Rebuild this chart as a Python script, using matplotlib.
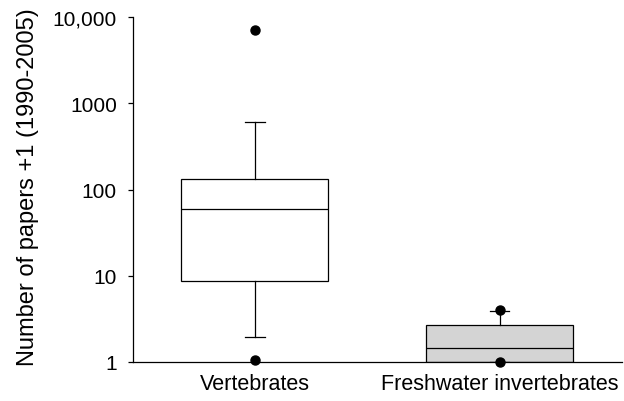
import matplotlib
matplotlib.use("Agg")
import matplotlib.pyplot as plt

categories = ["Vertebrates", "Freshwater invertebrates"]
medians = [59, 1.45]
q1 = [8.6, 1.0]
q3 = [133, 2.65]
whisker_low = [1.95, 1.0]
whisker_high = [610, 3.9]
outliers = [[7100, 1.05], [4.0, 1.0]]
box_colors = ["white", "#d4d4d4"]
yticks = [1, 10, 100, 1000, 10000]
ytick_labels = ["1", "10", "100", "1000", "10,000"]

plt.rcParams['font.family'] = ['Liberation Sans', 'DejaVu Sans']

fig = plt.figure(figsize=(6.24, 4.02), dpi=100)
ax = fig.add_axes([133/624, 1 - 363/402, (622-133)/624, (363-18)/402])

stats = []
for i, c in enumerate(categories):
    stats.append(dict(label=c, med=medians[i], q1=q1[i], q3=q3[i],
                      whislo=whisker_low[i], whishi=whisker_high[i],
                      fliers=outliers[i]))

bp = ax.bxp(stats, positions=[1, 2], widths=0.6, patch_artist=True,
            boxprops=dict(linewidth=0.9, edgecolor='black'),
            medianprops=dict(color='black', linewidth=0.9),
            whiskerprops=dict(color='black', linewidth=0.9),
            capprops=dict(color='black', linewidth=0.9),
            capwidths=0.08,
            flierprops=dict(marker='o', markerfacecolor='black',
                            markeredgecolor='black', markersize=6.5),
            manage_ticks=False)
for patch, col in zip(bp['boxes'], box_colors):
    patch.set_facecolor(col)
for fl in bp['fliers']:
    fl.set_clip_on(False)

ax.set_yscale('log')
ax.set_ylim(1, 10000)
ax.set_xlim(0.502, 2.5)
ax.set_yticks(yticks)
ax.set_yticklabels(ytick_labels)
ax.yaxis.set_minor_locator(matplotlib.ticker.NullLocator())
ax.set_xticks([1, 2])
ax.set_xticklabels(categories)
ax.tick_params(axis='x', length=0, pad=8, labelsize=15.5)
ax.tick_params(axis='y', length=3.6, width=0.9, pad=8, labelsize=15)
ax.spines['top'].set_visible(False)
ax.spines['right'].set_visible(False)
ax.spines['left'].set_linewidth(0.9)
ax.spines['bottom'].set_linewidth(0.9)
fig.text(28/624, 1 - 187/402, "Number of papers +1 (1990-2005)", rotation=90,
         ha='center', va='center', fontsize=17)

fig.savefig("out.png", dpi=100)
